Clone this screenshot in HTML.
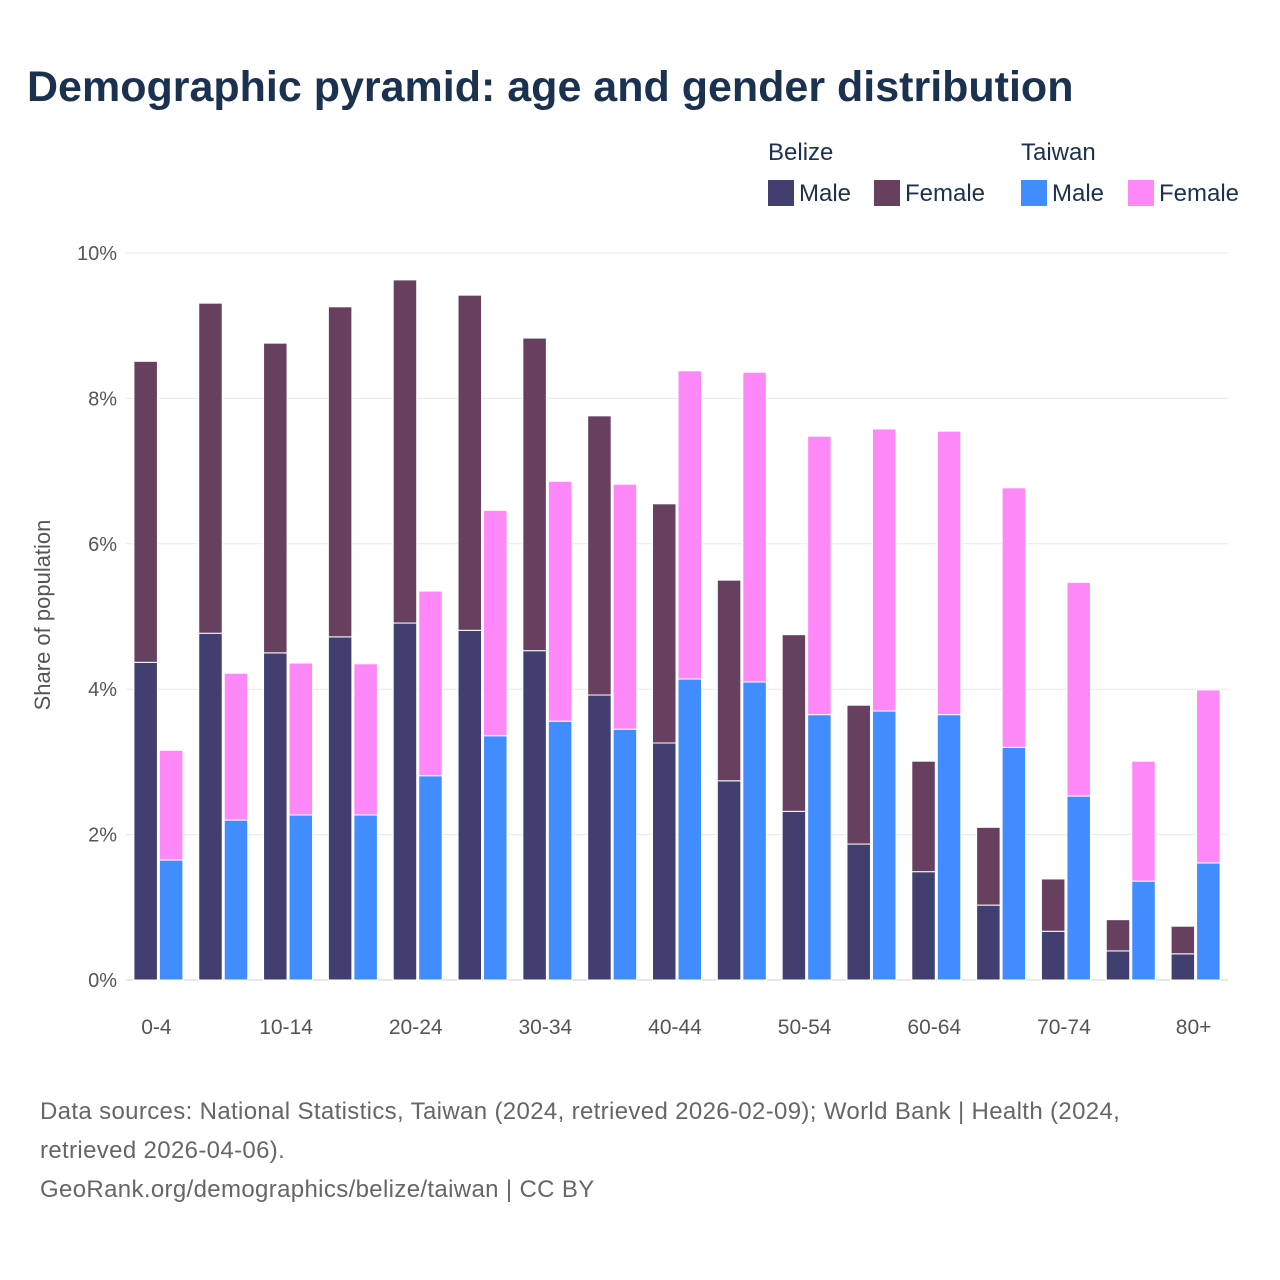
<!DOCTYPE html>
<html><head><meta charset="utf-8"><style>
html,body{margin:0;padding:0;background:#fff;}
body{width:1280px;height:1280px;position:relative;font-family:"Liberation Sans",sans-serif;overflow:hidden;}
.t{position:absolute;white-space:nowrap;}
</style></head><body>
<div class="t" style="left:27px;top:63px;font-size:43px;font-weight:bold;color:#1b3150;">Demographic pyramid: age and gender distribution</div>
<div>
<div class="t" style="left:768px;top:139px;font-size:24px;color:#1b3150;">Belize</div>
<div class="t" style="left:1021px;top:139px;font-size:24px;color:#1b3150;">Taiwan</div>
<div class="t" style="left:768px;top:180px;font-size:24px;color:#1b3150;"><span style="display:inline-block;width:26px;height:26px;background:#413f6f;vertical-align:-5px;margin-right:5px"></span>Male</div>
<div class="t" style="left:874px;top:180px;font-size:24px;color:#1b3150;"><span style="display:inline-block;width:26px;height:26px;background:#67405f;vertical-align:-5px;margin-right:5px"></span>Female</div>
<div class="t" style="left:1021px;top:180px;font-size:24px;color:#1b3150;"><span style="display:inline-block;width:26px;height:26px;background:#418cff;vertical-align:-5px;margin-right:5px"></span>Male</div>
<div class="t" style="left:1128px;top:180px;font-size:24px;color:#1b3150;"><span style="display:inline-block;width:26px;height:26px;background:#ff88f8;vertical-align:-5px;margin-right:5px"></span>Female</div>
</div>
<svg id="chart" width="1280" height="1280" style="position:absolute;left:0;top:0;pointer-events:none" xmlns="http://www.w3.org/2000/svg"></svg>
<div class="t" style="left:40px;top:1092px;font-size:24px;letter-spacing:0.35px;color:#666;line-height:39px;">Data sources: National Statistics, Taiwan (2024, retrieved 2026-02-09); World Bank | Health (2024,<br>retrieved 2026-04-06).<br>GeoRank.org/demographics/belize/taiwan | CC BY</div>
<script>
const categories=["0-4","5-9","10-14","15-19","20-24","25-29","30-34","35-39","40-44","45-49","50-54","55-59","60-64","65-69","70-74","75-79","80+"];
const belizeMale=[4.37,4.77,4.50,4.72,4.91,4.81,4.53,3.92,3.26,2.74,2.32,1.87,1.49,1.03,0.67,0.40,0.36];
const belizeFemale=[4.14,4.54,4.26,4.54,4.72,4.61,4.30,3.84,3.29,2.76,2.43,1.91,1.52,1.07,0.72,0.43,0.38];
const taiwanMale=[1.65,2.20,2.27,2.27,2.81,3.36,3.56,3.45,4.14,4.10,3.65,3.70,3.65,3.20,2.53,1.36,1.61];
const taiwanFemale=[1.51,2.02,2.09,2.08,2.54,3.10,3.30,3.37,4.24,4.26,3.83,3.88,3.90,3.57,2.94,1.65,2.38];
const yTicks=[0,2,4,6,8,10];
const yTickLabels=["0%","2%","4%","6%","8%","10%"];

const svg=document.getElementById('chart');
const NS="http://www.w3.org/2000/svg";
const L=126,R=1228,Y0=980,Y10=253;
const band=(R-L)/categories.length;
const y=v=>Y0-(Y0-Y10)*v/10;
const xc=i=>L+(i+0.5)*band;
function mk(tag,attrs){const e=document.createElementNS(NS,tag);for(const k in attrs)e.setAttribute(k,attrs[k]);svg.appendChild(e);return e;}
yTicks.forEach((t,i)=>{
  const g=mk('line',{x1:L,x2:R,y1:y(t),y2:y(t),stroke:i===0?'#d0d0d0':'#e8e8e8','stroke-width':1});
  
  
  const tx=mk('text',{x:117,y:y(t)+7,'text-anchor':'end','font-size':20,fill:'#555','font-family':'Liberation Sans, sans-serif'});
  tx.textContent=yTickLabels[i];
  
  
});
const yt=mk('text',{x:0,y:0,transform:'translate(50,615) rotate(-90)','text-anchor':'middle','font-size':22,fill:'#555','font-family':'Liberation Sans, sans-serif'});
yt.textContent='Share of population';


const bw=23.5;
function bar(x,v0,v1,color,name){
  const r=mk('rect',{x:x,y:y(v1),width:bw,height:y(v0)-y(v1),fill:color,stroke:'#fff','stroke-width':1});
  
  
}
categories.forEach((c,i)=>{
  const cx=xc(i);
  bar(cx-bw-1,0,belizeMale[i],'#413f6f','bar-belize-male');
  bar(cx-bw-1,belizeMale[i],belizeMale[i]+belizeFemale[i],'#67405f','bar-belize-female');
  bar(cx+1,0,taiwanMale[i],'#418cff','bar-taiwan-male');
  bar(cx+1,taiwanMale[i],taiwanMale[i]+taiwanFemale[i],'#ff88f8','bar-taiwan-female');
  if(i%2===0){
    const t=mk('text',{x:cx-2,y:1034,'text-anchor':'middle','font-size':21,fill:'#555','font-family':'Liberation Sans, sans-serif'});
    t.textContent=c;
    
    
  }
});
</script>
</body></html>
